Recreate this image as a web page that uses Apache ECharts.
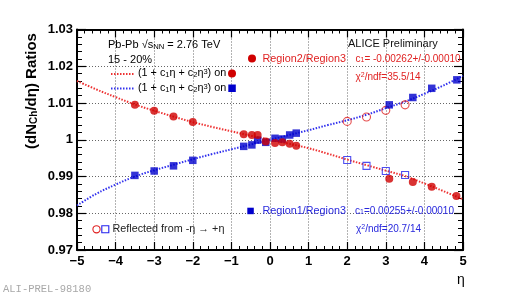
<!DOCTYPE html>
<html><head><meta charset="utf-8">
<script src="https://cdn.jsdelivr.net/npm/echarts@6/dist/echarts.min.js"></script>
<style>html,body{margin:0;padding:0;background:#fff}#c{width:515px;height:296px}</style>
</head><body><div id="c"></div>
<script>
// ---- data ----
var xTickLabels = ['\u22125','\u22124','\u22123','\u22122','\u22121','0','1','2','3','4','5'];
var yTickLabels = ['0.97','0.98','0.99','1','1.01','1.02','1.03'];

// Region2/Region3 (filled red circles)
var r23Eta = [-3.5,-3,-2.5,-2,-0.68,-0.47,-0.32,-0.11,0.13,0.32,0.51,0.68,3.09,3.7,4.19,4.83];
var r23Val = [1.0095,1.0079,1.0063,1.0048,1.0015,1.0013,1.0013,0.9995,0.9991,0.9993,0.9989,0.9984,0.9894,0.9885,0.9872,0.9847];
// Region1/Region3 (filled blue squares)
var r13Eta = [-3.5,-3,-2.5,-2,-0.68,-0.47,-0.32,-0.11,0.13,0.32,0.51,0.68,3.09,3.7,4.19,4.84];
var r13Val = [0.9903,0.9915,0.9929,0.9944,0.9982,0.9986,0.9999,0.9993,1.0004,1.0002,1.0013,1.0018,1.0095,1.0115,1.0140,1.0163];
// reflected from -eta -> +eta
var reflR23Eta = [2,2.5,3,3.5];
var reflR23Val = [1.0050,1.0062,1.0080,1.0095];
var reflR13Eta = [2,2.5,3,3.5];
var reflR13Val = [0.9945,0.9929,0.9915,0.9904];
// fit curves
var fitEta = [-5,-4.5,-4,-3.5,-3,-2.5,-2,-1.5,-1,-0.5,0,0.5,1,1.5,2,2.5,3,3.5,4,4.5,5];
var fitR23 = [1.0160,1.0137,1.0116,1.0096,1.0079,1.0063,1.0048,1.0035,1.0023,1.0011,1.0000,0.9989,0.9977,0.9962,0.9946,0.9931,0.9916,0.9901,0.9881,0.9860,0.9838];
var fitR13 = [0.9821,0.9853,0.9878,0.9900,0.9917,0.9932,0.9947,0.9961,0.9974,0.9987,1.0000,1.0013,1.0026,1.0040,1.0053,1.0068,1.0086,1.0104,1.0125,1.0148,1.0174];

function pairs(xs, ys){ return xs.map(function(x,i){ return [x, ys[i]]; }); }

var FAM = '"Liberation Sans", Arial, Helvetica, sans-serif';
var RED = '#d00000', BLUE = '#0000cc', RTXT = '#e02222', BTXT = '#2828dd';

function richFor(color, size){
  return {
    sub: {fontSize: size*0.7, fontFamily: FAM, fill: color, color: color, lineHeight: 8, verticalAlign: 'bottom'},
    sup: {fontSize: size*0.7, fontFamily: FAM, fill: color, color: color, lineHeight: 8, verticalAlign: 'top'},
    n:   {fontSize: size, fontFamily: FAM, fill: color, color: color, lineHeight: 15}
  };
}
function txt(x, y, text, color, size, extra){
  size = size || 11;
  var st = {text: text, fill: color, fontSize: size, fontFamily: FAM,
    align: 'left', verticalAlign: 'middle', textAlign: 'left', textVerticalAlign: 'middle',
    rich: richFor(color, size)};
  if (extra) for (var k in extra) st[k] = extra[k];
  return {type: 'text', x: x, y: y, z: 50, style: st};
}

var chart = echarts.init(document.getElementById('c'), null, {renderer: 'canvas'});

var option = {
  animation: false,
  backgroundColor: '#fff',
  grid: {left: 77, right: 52, top: 29.5, bottom: 46, containLabel: false},
  xAxis: [
    {type: 'value', min: -5, max: 5, interval: 1, position: 'bottom',
     axisLine: {show: true, onZero: false, lineStyle: {color: '#000', width: 2}},
     axisTick: {show: true, inside: true, length: 8, lineStyle: {color: '#000', width: 1.2}},
     minorTick: {show: true, splitNumber: 5, length: 4, lineStyle: {color: '#000', width: 1}},
     splitLine: {show: true, lineStyle: {color: '#666', type: [1,2], width: 1}},
     axisLabel: {margin: 5, color: '#000', fontSize: 13, fontWeight: 'bold', fontFamily: FAM,
       formatter: function(v){ return xTickLabels[Math.round(v + 5)]; }}},
    {type: 'value', min: -5, max: 5, interval: 1, position: 'top',
     axisLine: {show: true, onZero: false, lineStyle: {color: '#000', width: 2}},
     axisTick: {show: true, inside: true, length: 8, lineStyle: {color: '#000', width: 1.2}},
     minorTick: {show: true, splitNumber: 5, length: 4, lineStyle: {color: '#000', width: 1}},
     splitLine: {show: false}, axisLabel: {show: false}}
  ],
  yAxis: [
    {type: 'value', min: 0.97, max: 1.03, interval: 0.01, position: 'left',
     axisLine: {show: true, onZero: false, lineStyle: {color: '#000', width: 2}},
     axisTick: {show: true, inside: true, length: 9, lineStyle: {color: '#000', width: 1.2}},
     minorTick: {show: true, splitNumber: 5, length: 5, lineStyle: {color: '#000', width: 1}},
     splitLine: {show: true, lineStyle: {color: '#666', type: [1,2], width: 1}},
     axisLabel: {margin: 4, color: '#000', fontSize: 13, fontWeight: 'bold', fontFamily: FAM,
       formatter: function(v){ return yTickLabels[Math.round((v - 0.97) / 0.01)]; }}},
    {type: 'value', min: 0.97, max: 1.03, interval: 0.01, position: 'right',
     axisLine: {show: true, onZero: false, lineStyle: {color: '#000', width: 2}},
     axisTick: {show: true, inside: true, length: 9, lineStyle: {color: '#000', width: 1.2}},
     minorTick: {show: true, splitNumber: 5, length: 5, lineStyle: {color: '#000', width: 1}},
     splitLine: {show: false}, axisLabel: {show: false}}
  ],
  series: [
    {type: 'line', name: 'fitR23', data: pairs(fitEta, fitR23), smooth: 0.4, showSymbol: false, z: 2,
     lineStyle: {color: '#ee3333', width: 2, type: [1.5,1.5]}},
    {type: 'line', name: 'fitR13', data: pairs(fitEta, fitR13), smooth: 0.4, showSymbol: false, z: 2,
     lineStyle: {color: '#3333ee', width: 2, type: [1.5,1.5]}},
    {type: 'scatter', name: 'reflR23', data: pairs(reflR23Eta, reflR23Val), symbol: 'circle', symbolSize: 8, z: 5,
     itemStyle: {color: 'rgba(255,255,255,0)', borderColor: '#e02020', borderWidth: 1.1}},
    {type: 'scatter', name: 'reflR13', data: pairs(reflR13Eta, reflR13Val), symbol: 'rect', symbolSize: 7, z: 5,
     itemStyle: {color: 'rgba(255,255,255,0)', borderColor: '#2222ee', borderWidth: 1.1}},
    {type: 'scatter', name: 'R13', data: pairs(r13Eta, r13Val), symbol: 'rect', symbolSize: 7.5, z: 6,
     itemStyle: {color: BLUE}},
    {type: 'scatter', name: 'R23', data: pairs(r23Eta, r23Val), symbol: 'circle', symbolSize: 8, z: 7,
     itemStyle: {color: RED}}
  ],
  graphic: [
    // y axis title
    {type: 'text', x: 32, y: 91, rotation: Math.PI/2, z: 50,
     style: {text: '(dN{sub|Ch}/d\u03b7) Ratios', fill: '#000', fontSize: 15, fontWeight: 'bold', fontFamily: FAM,
       align: 'center', verticalAlign: 'middle', textAlign: 'center', textVerticalAlign: 'middle',
       rich: {
         sub: {fontSize: 10, fontWeight: 'bold', fontFamily: FAM, fill: '#000', lineHeight: 10, verticalAlign: 'bottom'},
         n: {fontSize: 15, fontWeight: 'bold', fontFamily: FAM, fill: '#000', lineHeight: 18}
       }}},
    // x axis title
    txt(457, 280, '\u03b7', '#000', 14),
    // header
    txt(108, 45, 'Pb-Pb \u221as{sub|NN} = 2.76 TeV', '#000', 11),
    txt(108, 60, '15 - 20%', '#000', 11),
    // fit legend
    {type: 'line', z: 50, shape: {x1: 111, y1: 74, x2: 135, y2: 74}, style: {stroke: '#ee3333', lineWidth: 2, lineDash: [1.5,1.5]}},
    txt(138, 73, '(1 + c{sub|1}\u03b7 + c{sub|2}\u03b7{sup|3}) on', '#000', 10.8),
    {type: 'circle', z: 50, shape: {cx: 232, cy: 73.5, r: 4}, style: {fill: RED}},
    {type: 'line', z: 50, shape: {x1: 111, y1: 88.5, x2: 135, y2: 88.5}, style: {stroke: '#3333ee', lineWidth: 2, lineDash: [1.5,1.5]}},
    txt(138, 88, '(1 + c{sub|1}\u03b7 + c{sub|2}\u03b7{sup|3}) on', '#000', 10.8),
    {type: 'rect', z: 50, shape: {x: 228.3, y: 84.5, width: 7.5, height: 7.5}, style: {fill: BLUE}},
    // ALICE
    txt(348, 44, 'ALICE Preliminary', '#111', 11),
    // Region2/Region3 block
    {type: 'circle', z: 50, shape: {cx: 252, cy: 58.5, r: 4}, style: {fill: RED}},
    txt(262.5, 59, 'Region2/Region3', RTXT, 10.8),
    txt(355.5, 59, 'c{sub|1}= -0.00262+/-0.00010', RTXT, 10),
    txt(355.5, 77, '\u03c7{sup|2}/ndf=35.5/14', RTXT, 10),
    // Region1/Region3 block
    {type: 'rect', z: 50, shape: {x: 247.3, y: 207.7, width: 6.5, height: 6.5}, style: {fill: BLUE}},
    txt(262.5, 211, 'Region1/Region3', BTXT, 10.8),
    txt(355, 211, 'c{sub|1}=0.00255+/-0.00010', BTXT, 10),
    txt(356, 229, '\u03c7{sup|2}/ndf=20.7/14', BTXT, 10),
    // reflected legend
    {type: 'circle', z: 50, shape: {cx: 96.5, cy: 229.3, r: 3.6}, style: {fill: '#fff', stroke: '#e02020', lineWidth: 1.1}},
    {type: 'rect', z: 50, shape: {x: 101.8, y: 225.8, width: 7, height: 7}, style: {fill: '#fff', stroke: '#2222ee', lineWidth: 1.1}},
    txt(112.5, 229, 'Reflected from -\u03b7 \u2192 +\u03b7', '#222', 10.8),
    // preliminary ID
    {type: 'text', x: 3, y: 289, z: 50, style: {text: 'ALI-PREL-98180', fill: '#a8a8a8', fontSize: 10.5,
      fontFamily: '"Liberation Mono", "DejaVu Sans Mono", monospace', align: 'left', verticalAlign: 'middle',
      textAlign: 'left', textVerticalAlign: 'middle'}}
  ]
};
chart.setOption(option);
</script>
</body></html>
